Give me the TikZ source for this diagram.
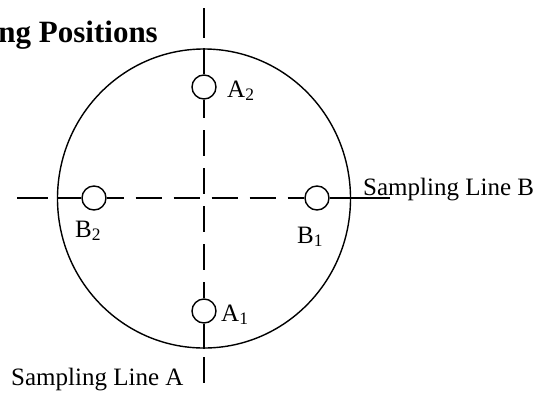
\documentclass[tikz,border=0pt]{standalone}
\usepackage{fontspec}
\setmainfont{Liberation Serif}
\usetikzlibrary{shapes.geometric}
\begin{document}
\begin{tikzpicture}[x=1pt,y=-1pt,
  ring/.style={draw, ellipse, line width=1.4pt, inner sep=0pt},
  port/.style={draw, circle, line width=1.4pt, minimum size=24pt, inner sep=0pt},
  axis/.style={line width=1.2pt},
  dashaxis/.style={line width=1.2pt, dash pattern=on 26pt off 12pt},
  lbl/.style={inner sep=0pt, anchor=base west, font=\fontsize{25}{29}\selectfont},
  ttl/.style={inner sep=0pt, anchor=base east, font=\fontsize{31}{35}\selectfont\bfseries}]
\useasboundingbox (0,0) rectangle (540,394);
\node[ring, minimum width=293pt, minimum height=299pt] (ring) at (204,198.5) {};
\node[port] (A2) at (204,87) {};
\node[port] (A1) at (204,311) {};
\node[port] (B2) at (94,198) {};
\node[port] (B1) at (317,198) {};
\node[ttl] (title) at (158,42) {ng Positions};
\node[lbl] (lA2) at (227,97) {A\textsubscript{2}};
\node[lbl] (lA1) at (221,321) {A\textsubscript{1}};
\node[lbl] (lB2) at (75,237) {B\textsubscript{2}};
\node[lbl] (lB1) at (297,243) {B\textsubscript{1}};
\node[lbl] (lineB) at (363,195) {Sampling Line B};
\node[lbl] (lineA) at (11,385) {Sampling Line A};
\coordinate (hl) at (17,198);
\coordinate (hlend) at (48,198);
\coordinate (hr) at (390,198);
\coordinate (vt) at (204,8);
\coordinate (vtend) at (204,38);
\coordinate (vb) at (204,357);
\coordinate (vbend) at (204,383);
\draw[axis] (hl) -- (hlend);
\draw[axis] (B2.west -| ring.west) -- (B2.west);
\draw[dashaxis, dash phase=9pt] (B2.east) -- (B1.west);
\draw[axis] (B1.east) -- (hr);
\draw[axis] (vt) -- (vtend);
\draw[axis] (ring.north) -- (A2.north);
\draw[dashaxis, dash phase=7.5pt] (A2.south) -- (A1.north);
\draw[axis] (A1.south) -- (ring.south);
\draw[axis] (vb) -- (vbend);
\end{tikzpicture}
\end{document}
